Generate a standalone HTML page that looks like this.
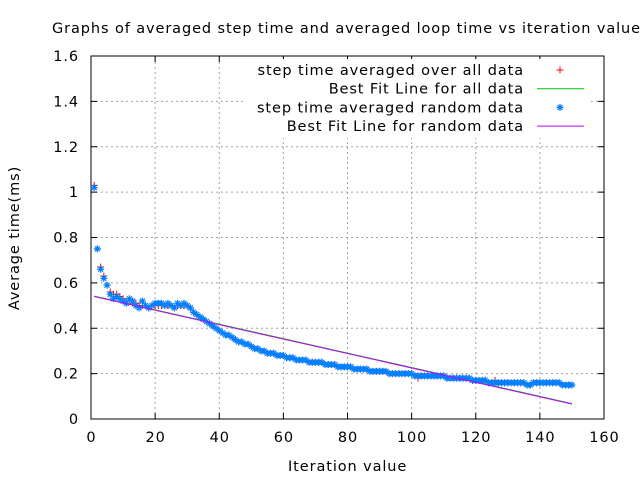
<!DOCTYPE html>
<html><head><meta charset="utf-8"><style>
body{margin:0;background:#fff}
svg{display:block;font-family:"DejaVu Sans","Liberation Sans",sans-serif}
text{letter-spacing:0.9px}
</style></head><body>
<svg id="chart" width="640" height="480">
<rect width="640" height="480" fill="#fff"/>
<g id="grid"></g>
<g id="axes"></g>
<g id="marks"></g>
<g id="legend"></g>
<text x="52" y="33" font-size="14.5">Graphs of averaged step time and averaged loop time vs iteration value</text>
<text x="288" y="471" font-size="14.5">Iteration value</text>
<text x="19" y="238" font-size="14.5" text-anchor="middle" transform="rotate(-90 19 238)">Average time(ms)</text>
</svg>
<script>
const xTicks=[0,20,40,60,80,100,120,140,160];
const yTicks=[0,0.2,0.4,0.6,0.8,1,1.2,1.4,1.6];
const yTickLabels=["0","0.2","0.4","0.6","0.8","1","1.2","1.4","1.6"];
const randomData=[1.02,0.75,0.66,0.62,0.59,0.55,0.53,0.54,0.53,0.52,
0.51,0.53,0.52,0.50,0.49,0.52,0.50,0.49,0.50,0.51,
0.51,0.51,0.50,0.51,0.50,0.49,0.51,0.50,0.51,0.50,
0.49,0.47,0.46,0.45,0.44,0.43,0.42,0.41,0.40,0.39,
0.38,0.37,0.37,0.36,0.35,0.34,0.34,0.33,0.33,0.32,
0.31,0.31,0.30,0.30,0.29,0.29,0.29,0.28,0.28,0.28,
0.27,0.27,0.27,0.26,0.26,0.26,0.26,0.25,0.25,0.25,
0.25,0.25,0.24,0.24,0.24,0.24,0.23,0.23,0.23,0.23,
0.23,0.22,0.22,0.22,0.22,0.22,0.21,0.21,0.21,0.21,
0.21,0.21,0.20,0.20,0.20,0.20,0.20,0.20,0.20,0.20,
0.19,0.19,0.19,0.19,0.19,0.19,0.19,0.19,0.19,0.19,
0.18,0.18,0.18,0.18,0.18,0.18,0.18,0.18,0.17,0.17,
0.17,0.17,0.17,0.16,0.16,0.16,0.16,0.16,0.16,0.16,
0.16,0.16,0.16,0.16,0.16,0.15,0.15,0.16,0.16,0.16,
0.16,0.16,0.16,0.16,0.16,0.16,0.15,0.15,0.15,0.15];
const allData=[1.03,0.75,0.67,0.63,0.59,0.56,0.55,0.55,0.54,0.53,
0.52,0.52,0.51,0.51,0.50,0.50,0.50,0.49,0.50,0.50,
0.50,0.50,0.50,0.50,0.50,0.49,0.50,0.50,0.50,0.50,
0.49,0.47,0.46,0.45,0.44,0.43,0.42,0.41,0.40,0.39,
0.38,0.37,0.37,0.36,0.35,0.34,0.34,0.33,0.33,0.32,
0.31,0.31,0.30,0.30,0.29,0.29,0.29,0.28,0.28,0.28,
0.27,0.27,0.27,0.26,0.26,0.26,0.26,0.25,0.25,0.25,
0.25,0.25,0.24,0.24,0.24,0.24,0.23,0.23,0.23,0.23,
0.23,0.22,0.22,0.22,0.22,0.22,0.21,0.21,0.21,0.21,
0.21,0.21,0.20,0.20,0.20,0.20,0.20,0.20,0.20,0.20,
0.19,0.18,0.19,0.19,0.19,0.19,0.19,0.19,0.19,0.19,
0.18,0.18,0.18,0.18,0.18,0.18,0.18,0.18,0.17,0.17,
0.17,0.17,0.17,0.16,0.16,0.17,0.16,0.16,0.16,0.16,
0.16,0.16,0.16,0.16,0.16,0.15,0.15,0.16,0.16,0.16,
0.16,0.16,0.16,0.16,0.16,0.16,0.15,0.15,0.15,0.15];
const fitAll=[0.545,-0.00318];
const fitRandom=[0.543,-0.00318];
const fitRange=[1,150];

const NS="http://www.w3.org/2000/svg";
const X0=91,X1=604,Y0=419,Y1=56;
const sx=v=>X0+(v-0)/(160-0)*(X1-X0);
const sy=v=>Y0-(v-0)/(1.6-0)*(Y0-Y1);
function mk(p,t,a){const e=document.createElementNS(NS,t);for(const k in a)e.setAttribute(k,a[k]);p.appendChild(e);return e;}
const grid=document.getElementById('grid'),axes=document.getElementById('axes'),marks=document.getElementById('marks'),legend=document.getElementById('legend');
xTicks.forEach((t,i)=>{const x=sx(t);
 if(i>0&&i<xTicks.length-1){const g=mk(grid,'line',{x1:x,y1:Y0,x2:x,y2:Y1,stroke:'#a0a0a0','stroke-dasharray':'2,3'});
 }
 const tk=mk(axes,'path',{d:`M${x} ${Y0}v-6M${x} ${Y1}v6`,stroke:'#000'});
 
 const l=mk(axes,'text',{x:x+0.5,y:Y0+23,'font-size':14.5,'text-anchor':'middle'});l.textContent=t;
 });
yTicks.forEach((t,i)=>{const y=sy(t);
 if(i>0&&i<yTicks.length-1){const g=mk(grid,'line',{x1:X0,y1:y,x2:X1,y2:y,stroke:'#a0a0a0','stroke-dasharray':'2,3'});
 }
 const tk=mk(axes,'path',{d:`M${X0} ${y}h6M${X1} ${y}h-6`,stroke:'#000'});
 
 const l=mk(axes,'text',{x:X0-12,y:y+5,'font-size':14.5,'text-anchor':'end'});l.textContent=yTickLabels[i];
 });
const frame=mk(axes,'rect',{x:X0,y:Y1,width:X1-X0,height:Y0-Y1,fill:'none',stroke:'#000'});


const lb=mk(legend,'rect',{x:245,y:59,width:345,height:79,fill:'#fff'});

const labels=["step time averaged over all data","Best Fit Line for all data","step time averaged random data","Best Fit Line for random data"];
function plus(g,x,y){const p=mk(g,'path',{d:`M${x-3.5} ${y}h7M${x} ${y-3.5}v7`,stroke:'#ff0000','stroke-width':1});return p;}
function star(g,x,y){const p=mk(g,'path',{d:`M${x-3.5} ${y}h7M${x} ${y-3.5}v7M${x-2.5} ${y-2.5}l5 5M${x-2.5} ${y+2.5}l5 -5`,stroke:'#0080ff','stroke-width':1.2});return p;}
labels.forEach((s,i)=>{const y=70+i*18.7;
 const t=mk(legend,'text',{x:524,y:y+5,'font-size':14.5,'text-anchor':'end'});t.textContent=s;
 
 let m;
 if(i==0)m=plus(legend,560,y);
 else if(i==2)m=star(legend,560,y);
 else m=mk(legend,'line',{x1:537,y1:y,x2:584,y2:y,stroke:i==1?'#00c000':'#c000ff'});
 });

allData.forEach((v,i)=>{const p=plus(marks,sx(i+1),sy(v));
 });
const l1=mk(marks,'line',{x1:sx(fitRange[0]),y1:sy(fitAll[0]+fitAll[1]*fitRange[0]),x2:sx(fitRange[1]),y2:sy(fitAll[0]+fitAll[1]*fitRange[1]),stroke:'#00c000'});

randomData.forEach((v,i)=>{const p=star(marks,sx(i+1),sy(v));
 });
const l2=mk(marks,'line',{x1:sx(fitRange[0]),y1:sy(fitRandom[0]+fitRandom[1]*fitRange[0]),x2:sx(fitRange[1]),y2:sy(fitRandom[0]+fitRandom[1]*fitRange[1]),stroke:'#c000ff'});

</script>
</body></html>
